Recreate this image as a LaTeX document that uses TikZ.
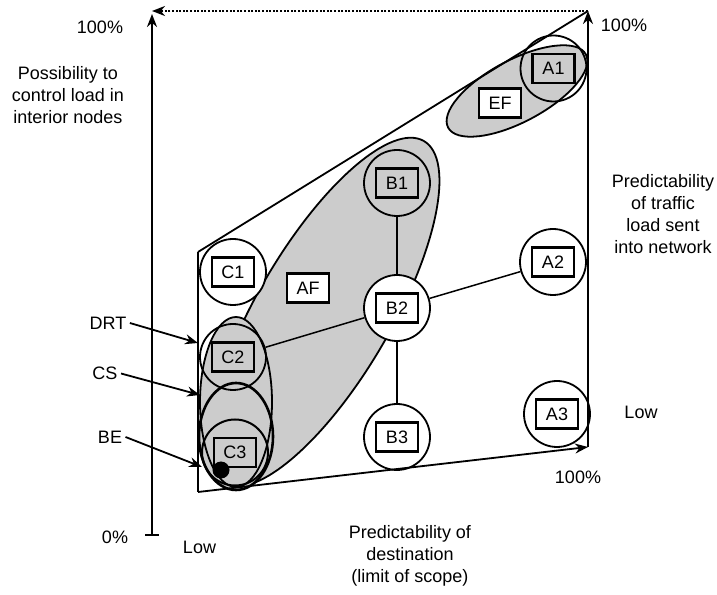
\documentclass[tikz,border=0pt]{standalone}
\usepackage{fontspec}
\setmainfont{Liberation Sans}
\usetikzlibrary{arrows.meta}

\definecolor{areagray}{gray}{0.8}
\tikzset{
  site/.style={circle,draw,line width=1.8pt,minimum size=66pt,inner sep=0pt},
  tag/.style={draw,line width=2.2pt,minimum width=42pt,minimum height=29pt,inner sep=0pt},
  group/.style={draw,line width=1.8pt,fill=areagray},
  link/.style={line width=1.5pt},
  frame/.style={line width=1.8pt},
  axis/.style={line width=2.2pt}
}

\begin{document}
\begin{tikzpicture}[x=10pt,y=10pt,>={Stealth[length=13pt,width=10pt]},font=\fontsize{18}{22}\selectfont]
\useasboundingbox (0,0) rectangle (71.7,59.4);

% service classes
\draw [group,rotate around={59.7:(32.4,28.2)}] (32.4,28.2) ellipse (198pt and 67pt);
\draw [group,rotate around={28:(51.7,50.3)}] (51.7,50.3) ellipse (78pt and 31pt);
\fill [areagray] (23.6,15.75) ellipse (37pt and 53.5pt);
\draw [group] (23.6,19.2) ellipse (36pt and 85pt);
\draw [line width=2.6pt] (23.6,15.75) ellipse (37pt and 53.5pt);

% nodes
\node (A1) [site] at (55.35,52.55) {};
\node (A2) [site,fill=white] at (55.3,33.2) {};
\node (A3) [site,fill=white] at (55.7,18.0) {};
\node (B1) [site] at (39.7,41.1) {};
\node (B2) [site,fill=white] at (39.7,28.6) {};
\node (B3) [site,fill=white] at (39.7,15.7) {};
\node (C1) [site,fill=white] at (23.3,32.2) {};
\node (C2) [site] at (23.3,23.7) {};
\node (C3) [site,line width=2pt] at (23.5,14.15) {};

\draw [link] (B1) -- (B2);
\draw [link] (B2) -- (B3);
\draw [link] (B2) -- (A2);
\draw [link] (B2) -- (C2);

\node (A1t) [tag] at (A1) {A1};
\node (A2t) [tag] at (A2) {A2};
\node (A3t) [tag] at (A3) {A3};
\node (B1t) [tag] at (B1) {B1};
\node (B2t) [tag] at (B2) {B2};
\node (B3t) [tag] at (B3) {B3};
\node (C1t) [tag] at (C1) {C1};
\node (C2t) [tag] at (C2) {C2};
\node (C3t) [tag] at (C3) {C3};
\node (EF) [tag,fill=white] at (50.0,49.1) {EF};
\node (AF) [tag,fill=white] at (30.8,30.6) {AF};
\node (dot) [circle,fill,minimum size=17pt,inner sep=0pt] at (22.1,12.4) {};

% axes
\coordinate (O) at (15.2,5.9);
\coordinate (Otop) at (15.2,58.0);
\coordinate (Dtip) at (15.2,58.3);
\coordinate (TL) at (19.8,34.2);
\coordinate (BL) at (19.8,10.2);
\coordinate (BR) at (58.8,14.7);
\coordinate (TR) at (58.8,58.3);
\draw [axis,->] (O) -- (Otop);
\draw [axis] ([xshift=-7pt]O) -- ([xshift=7pt]O);
\draw [axis,dash pattern=on 2pt off 1.6pt,->] (TR) -- (Dtip);
\draw [frame] (TL) -- (BL);
\draw [frame] (TL) -- (TR);
\draw [frame,->] (BL) -- (BR);
\draw [axis,->] (BR) -- (TR);

\node (ytop) at (10.0,56.7) {100\%};
\node (ylabel) [align=center] at (6.8,49.9) {Possibility to\\control load in\\interior nodes};
\node (zero) at (11.5,5.7) {0\%};
\node (rtop) at (62.4,56.9) {100\%};
\node (rlabel) [align=center] at (66.3,38.0) {Predictability\\of traffic\\load sent\\into network};
\node (rlow) at (64.1,18.2) {Low};
\node (xtop) at (57.8,11.7) {100\%};
\node (xlow) at (19.95,4.7) {Low};
\node (xlabel) [align=center] at (41.0,3.85) {Predictability of\\destination\\(limit of scope)};

% class labels
\node (drt) at (10.8,27.1) {DRT};
\node (cs) at (10.5,22.05) {CS};
\node (be) at (11.0,15.7) {BE};
\coordinate (drt-end) at (19.8,25.1);
\coordinate (cs-end) at (20.0,19.9);
\coordinate (be-end) at (20.2,12.7);
\draw [frame,->] (drt.east) -- (drt-end);
\draw [frame,->] (cs.east) -- (cs-end);
\draw [frame,->] (be.east) -- (be-end);
\end{tikzpicture}
\end{document}
